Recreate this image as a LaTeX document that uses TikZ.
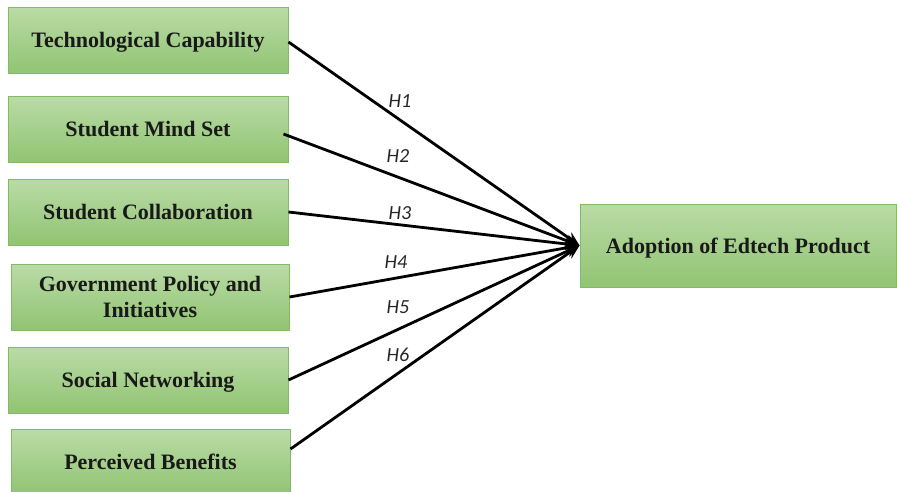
\documentclass[tikz,border=0pt]{standalone}
\usepackage{fontspec}
\setmainfont{Liberation Serif}
\newfontfamily\hfont{Carlito}
\usetikzlibrary{arrows.meta}

\definecolor{boxtop}{RGB}{186,219,166}
\definecolor{boxbot}{RGB}{145,196,115}
\definecolor{boxline}{RGB}{130,186,102}

\begin{document}
\begin{tikzpicture}[x=1pt,y=-1pt,
    factor/.style={rectangle, draw=boxline, line width=1pt, top color=boxtop, bottom color=boxbot,
        minimum width=280pt, minimum height=66pt, inner sep=0pt, align=center, text depth=0pt,
        font=\fontsize{22}{26}\selectfont\bfseries, text=black!90},
    hyp/.style={font=\fontsize{20}{21}\selectfont\hfont\itshape, text=black!85},
    link/.style={line width=2.8pt, -{Stealth[length=14pt,width=12pt]}}]
    \useasboundingbox (0,0) rectangle (897,491);

    % 左侧六个因素
    \node[factor] (tech) at (148,40) {Technological Capability};
    \node[factor] (mind) at (148,129) {Student Mind Set};
    \node[factor] (collab) at (148,212) {Student Collaboration};
    \node[factor, minimum width=278pt] (gov) at (150,297) {Government Policy and\\Initiatives};
    \node[factor] (social) at (148,380) {Social Networking};
    \node[factor, minimum width=279pt] (benefit) at (150.5,462) {Perceived Benefits};

    % 右侧结果
    \node[factor, minimum width=316pt, minimum height=83pt] (adopt) at (738,245.5) {Adoption of Edtech Product};

    % 假设箭头
    \draw[link] ([yshift=-2pt]tech.east) -- (adopt.west);
    \draw[link] ([xshift=-5pt,yshift=-5pt]mind.east) -- (adopt.west);
    \draw[link] (collab.east) -- (adopt.west);
    \draw[link] (gov.east) -- (adopt.west);
    \draw[link] (social.east) -- (adopt.west);
    \draw[link] ([yshift=13pt]benefit.east) -- (adopt.west);

    % 标签 H1--H6
    \node[hyp] (h1) at (400,101) {H1};
    \node[hyp] (h2) at (398,156) {H2};
    \node[hyp] (h3) at (400,213) {H3};
    \node[hyp] (h4) at (396,262) {H4};
    \node[hyp] (h5) at (398,307) {H5};
    \node[hyp] (h6) at (398,355) {H6};

\end{tikzpicture}
\end{document}
